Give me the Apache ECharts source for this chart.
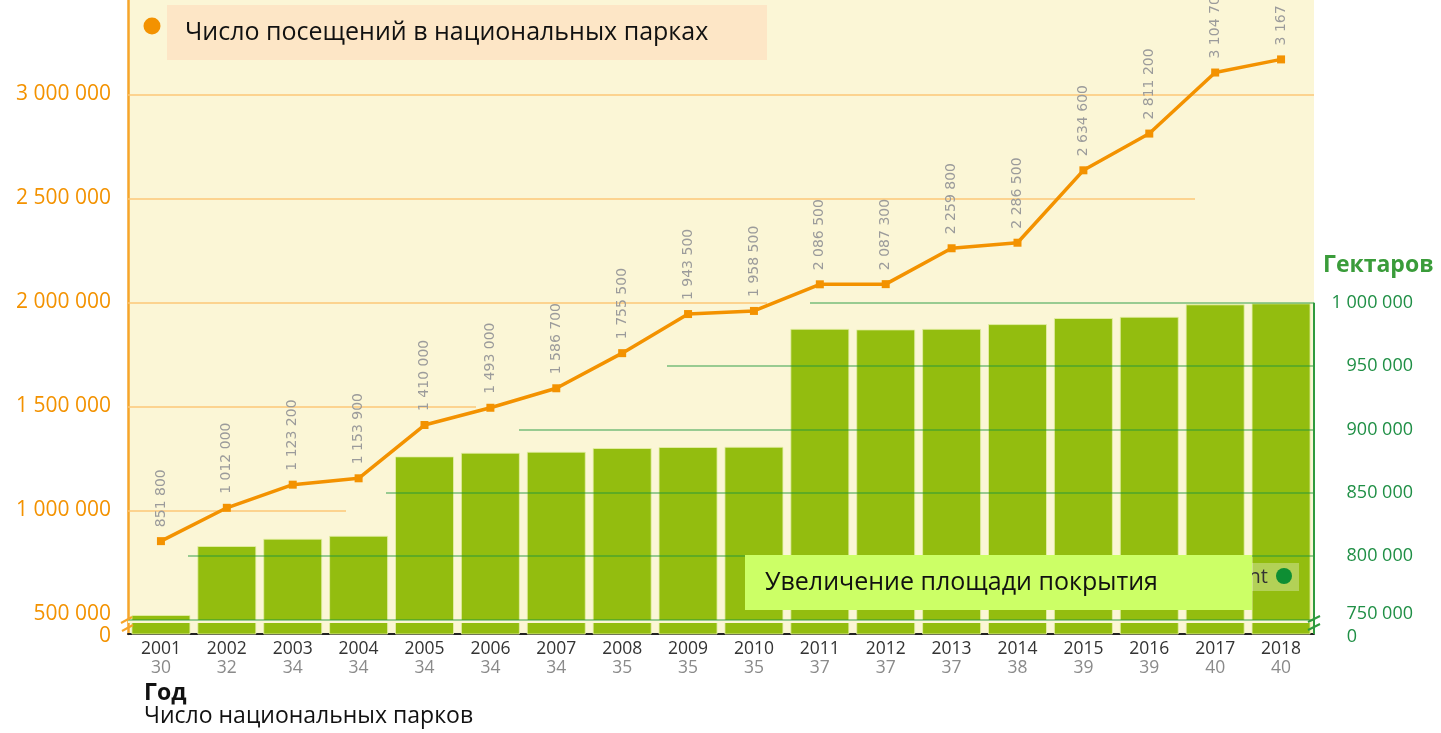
<!DOCTYPE html>
<html>
<head>
<meta charset="utf-8">
<script src="https://cdn.jsdelivr.net/npm/echarts@6/dist/echarts.min.js"></script>
<style>
  html, body { margin: 0; padding: 0; background: #fff; }
  #chart { width: 1441px; height: 733px; }
</style>
</head>
<body>
<div id="chart"></div>
<script>
// данные
const years = ['2001', '2002', '2003', '2004', '2005', '2006', '2007', '2008', '2009',
  '2010', '2011', '2012', '2013', '2014', '2015', '2016', '2017', '2018']
const parks = [30, 32, 34, 34, 34, 34, 34, 35, 35, 35, 37, 37, 37, 38, 39, 39, 40, 40]
const visits = [851800, 1012000, 1123200, 1153900, 1410000, 1493000, 1586700, 1755500, 1943500,
  1958500, 2086500, 2087300, 2259800, 2286500, 2634600, 2811200, 3104700, 3167800]
const hectares = [753400, 807900, 813700, 816000, 878700, 881600, 882400, 885300, 886100,
  886300, 979500, 979000, 979500, 983200, 988000, 989000, 998800, 999600]
const leftTicks = [500000, 1000000, 1500000, 2000000, 2500000, 3000000]
const rightTicks = [750000, 800000, 850000, 900000, 950000, 1000000]

// шкалы с разрывом внизу ("0" на нижней границе)
const LEFT_MIN = 405300, LEFT_MAX = 3453400
const RIGHT_MIN = 738400, RIGHT_MAX = 1239200

const fmt = v => String(v).replace(/\B(?=(\d{3})+(?!\d))/g, ' ')

const chart = echarts.init(document.getElementById('chart'))

// частичные линии сетки, как на картинке
const orangeGrid = [[1000000, 346], [1500000, 476], [2000000, 767], [2500000, 1195], [3000000, 1314]]
const greenGrid = [[750000, 128], [800000, 188], [850000, 386], [900000, 519], [950000, 667], [1000000, 810]]

const option = {
  animation: false,
  grid: {
    left: 128, right: 127, top: 0, bottom: 99,
    show: true, backgroundColor: '#FBF6D6', borderWidth: 0
  },
  xAxis: {
    type: 'category',
    data: years,
    axisLine: { lineStyle: { color: '#222', width: 2 } },
    axisTick: { inside: true, length: 8, lineStyle: { color: '#222', width: 2 } },
    axisLabel: {
      margin: 6,
      formatter: (v, i) => '{y|' + v + '}\n{n|' + parks[i] + '}',
      rich: {
        y: { fontFamily: 'Open Sans', fontSize: 17.5, color: '#333', lineHeight: 19 },
        n: { fontFamily: 'Open Sans', fontSize: 17.5, color: '#8a8a8a', lineHeight: 19 }
      }
    }
  },
  yAxis: [{
    type: 'value',
    position: 'left',
    min: LEFT_MIN, max: LEFT_MAX,
    axisLine: { show: true, lineStyle: { color: '#F6A52A', width: 2.5 } },
    axisTick: { show: false },
    splitLine: { show: false },
    axisLabel: {
      customValues: [LEFT_MIN].concat(leftTicks),
      showMinLabel: true,
      hideOverlap: false,
      margin: 17,
      color: '#F39200',
      fontFamily: 'Open Sans',
      fontSize: 21,
      formatter: v => v === LEFT_MIN ? '{z|0}' : fmt(v),
      rich: {
        z: { fontFamily: 'Open Sans', fontSize: 21, color: '#F39200', padding: [4, 0, 0, 0] }
      }
    }
  }, {
    type: 'value',
    position: 'right',
    min: RIGHT_MIN, max: RIGHT_MAX,
    axisLine: { show: false },
    axisTick: { show: false },
    splitLine: { show: false },
    axisLabel: {
      customValues: [RIGHT_MIN].concat(rightTicks),
      showMinLabel: true,
      margin: 99,
      align: 'right',
      color: '#1F8F45',
      fontFamily: 'Open Sans',
      fontSize: 18,
      formatter: v => v === RIGHT_MIN ? '{z|0}' : (v === 750000 ? '{u|' + fmt(v) + '}' : fmt(v)),
      rich: {
        z: { fontFamily: 'Open Sans', fontSize: 18, color: '#1F8F45', padding: [6, 56, 0, 0] },
        u: { fontFamily: 'Open Sans', fontSize: 18, color: '#1F8F45', padding: [0, 0, 10, 0] }
      }
    }
  }],
  series: [{
    name: 'Гектаров',
    type: 'bar',
    yAxisIndex: 1,
    data: hectares,
    barWidth: 59,
    z: 2,
    itemStyle: { color: '#93BD0F', borderColor: 'rgba(230,240,170,0.8)', borderWidth: 1 },
    markLine: {
      silent: true, symbol: 'none', z: 5,
      label: { show: false },
      data: [
        // светлая полоса разрыва
        [{ x: 128, yAxis: 748300, lineStyle: { color: '#FBF6D6', width: 3, type: 'solid' } },
         { x: 1314, yAxis: 748300 }]
      ].concat(greenGrid.map(g => [
        { x: g[1], yAxis: g[0], lineStyle: { color: 'rgba(30,150,60,0.6)', width: 1.5, type: 'solid' } },
        { x: 1314, yAxis: g[0] }
      ])).concat([
        [{ x: 1314, yAxis: 1000000, lineStyle: { color: '#2E9B3E', width: 2, type: 'solid' } },
         { x: 1314, yAxis: RIGHT_MIN }]
      ])
    }
  }, {
    name: 'Число посещений',
    type: 'line',
    yAxisIndex: 0,
    data: visits,
    z: 3,
    symbol: 'rect',
    symbolSize: 8,
    color: '#F39200',
    lineStyle: { color: '#F39200', width: 3.5 },
    label: {
      show: true,
      position: 'top',
      distance: 10,
      rotate: 90,
      align: 'left',
      verticalAlign: 'middle',
      color: '#9B9B9B',
      fontFamily: 'DejaVu Sans',
      fontSize: 14,
      formatter: p => fmt(p.value)
    },
    markLine: {
      silent: true, symbol: 'none', z: 1,
      label: { show: false },
      lineStyle: { color: '#FCC777', width: 1.5, type: 'solid' },
      data: orangeGrid.map(g => [{ x: 128, yAxis: g[0] }, { x: g[1], yAxis: g[0] }])
    }
  }],
  graphic: [
    // легенда посещений
    { type: 'circle', shape: { cx: 152, cy: 26, r: 8.5 }, style: { fill: '#F39200' } },
    { type: 'rect', shape: { x: 167, y: 5, width: 600, height: 55 }, style: { fill: '#FDE6C6' } },
    { type: 'text', x: 185, y: 33, style: { text: 'Число посещений в национальных парках', fill: '#111',
      font: '25px "Open Sans"', verticalAlign: 'middle' } },
    // остаток исходной легенды
    { type: 'rect', shape: { x: 1236, y: 563, width: 63, height: 28 }, style: { fill: 'rgba(255,255,255,0.3)' }, z: 10 },
    { type: 'text', x: 1268, y: 577, style: { text: 'nt', fill: '#333', font: '20px "Open Sans"',
      align: 'right', verticalAlign: 'middle' }, z: 10 },
    { type: 'circle', shape: { cx: 1284, cy: 576, r: 8 }, style: { fill: '#0E8E33' }, z: 10 },
    // легенда площади
    { type: 'rect', shape: { x: 745, y: 555, width: 507, height: 55 }, style: { fill: '#CCFF66' }, z: 11 },
    { type: 'text', x: 765, y: 583, style: { text: 'Увеличение площади покрытия', fill: '#111',
      font: '25px "Open Sans"', verticalAlign: 'middle' }, z: 12 },
    // подписи осей
    { type: 'text', x: 1323, y: 265, style: { text: 'Гектаров', fill: '#3A9C3A',
      font: 'bold 23px "Open Sans"', verticalAlign: 'middle' } },
    { type: 'text', x: 144, y: 693, style: { text: 'Год', fill: '#111',
      font: 'bold 23px "Open Sans"', verticalAlign: 'middle' } },
    { type: 'text', x: 144, y: 716, style: { text: 'Число национальных парков', fill: '#111',
      font: '23px "Open Sans"', verticalAlign: 'middle' } },
    // значки разрыва шкал
    { type: 'line', shape: { x1: 121, y1: 623, x2: 132, y2: 617 }, style: { stroke: '#F6A52A', lineWidth: 2 }, z: 10 },
    { type: 'line', shape: { x1: 122, y1: 631, x2: 133, y2: 625 }, style: { stroke: '#F6A52A', lineWidth: 2 }, z: 10 },
    { type: 'line', shape: { x1: 1308, y1: 622, x2: 1320, y2: 616 }, style: { stroke: '#2E9B3E', lineWidth: 2 }, z: 10 },
    { type: 'line', shape: { x1: 1308, y1: 630, x2: 1320, y2: 624 }, style: { stroke: '#2E9B3E', lineWidth: 2 }, z: 10 }
  ]
}

chart.setOption(option)
</script>
</body>
</html>
